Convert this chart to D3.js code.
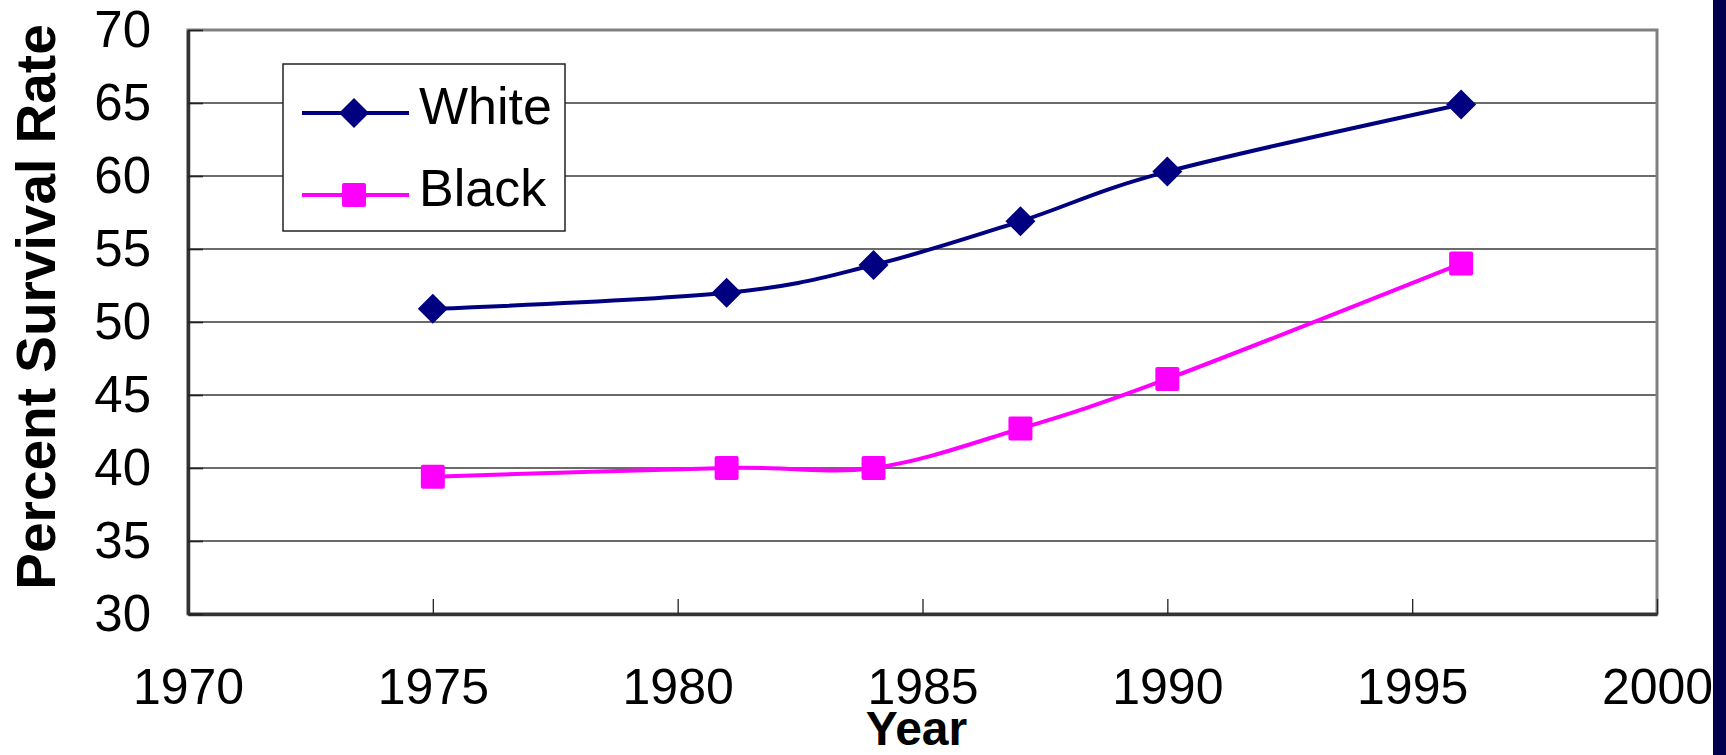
<!DOCTYPE html>
<html>
<head>
<meta charset="utf-8">
<script src="https://cdn.jsdelivr.net/npm/d3@7/dist/d3.min.js"></script>
<style>
  html, body { margin: 0; padding: 0; background: #ffffff; }
  svg { display: block; }
  text { font-family: "Liberation Sans", Arial, sans-serif; fill: #000; }
</style>
</head>
<body>
<svg id="chart" width="1726" height="755"></svg>
<script>
// Survival rate by year, two series
const years = [1975, 1981, 1984, 1987, 1990, 1996];
const whiteRate = [50.9, 52.0, 53.9, 56.9, 60.3, 64.9];
const blackRate = [39.4, 40.0, 40.0, 42.7, 46.1, 54.0];

const seriesNames = ["White", "Black"];
const seriesColors = ["#000080", "#ff00ff"];

const xTicks = [1970, 1975, 1980, 1985, 1990, 1995, 2000];
const yTicks = [30, 35, 40, 45, 50, 55, 60, 65, 70];

const W = 1726, H = 755;
const plot = { left: 188, right: 1657, top: 30, bottom: 614 };

const svg = d3.select("#chart");

// right-hand navy band
svg.append("rect")
  .attr("x", 1713).attr("y", 0)
  .attr("width", W - 1713).attr("height", H)
  .attr("fill", "#00004e");

const x = d3.scaleLinear().domain([1970, 2000]).range([plot.left, plot.right]);
const y = d3.scaleLinear().domain([30, 70]).range([plot.bottom, plot.top]);

// horizontal gridlines
svg.append("g")
  .selectAll("line")
  .data(yTicks.filter(v => v > 30 && v < 70))
  .join("line")
  .attr("x1", plot.left).attr("x2", plot.right)
  .attr("y1", d => y(d)).attr("y2", d => y(d))
  .attr("stroke", "#3a3a3a")
  .attr("stroke-width", 1.6);

// plot frame
svg.append("rect")
  .attr("x", plot.left).attr("y", plot.top)
  .attr("width", plot.right - plot.left)
  .attr("height", plot.bottom - plot.top)
  .attr("fill", "none")
  .attr("stroke", "#808080")
  .attr("stroke-width", 3);

// x axis: ticks pointing inward, labels below
const xAxis = d3.axisBottom(x)
  .tickValues(xTicks)
  .tickFormat(d3.format("d"))
  .tickSizeInner(-15)
  .tickSizeOuter(0)
  .tickPadding(54);
const gx = svg.append("g")
  .attr("transform", `translate(0,${plot.bottom})`)
  .call(xAxis);
gx.select(".domain").attr("stroke", "#333").attr("stroke-width", 3.5);
gx.selectAll(".tick line").attr("stroke", "#222").attr("stroke-width", 1.3);
gx.selectAll(".tick text")
  .attr("font-size", 50)
  .attr("font-family", "Liberation Sans, Arial, sans-serif")
  .attr("fill", "#000");

// y axis: ticks pointing inward, labels to the left
const yAxis = d3.axisLeft(y)
  .tickValues(yTicks)
  .tickFormat(d3.format("d"))
  .tickSizeInner(-15)
  .tickSizeOuter(0)
  .tickPadding(37);
const gy = svg.append("g")
  .attr("transform", `translate(${plot.left},0)`)
  .call(yAxis);
gy.select(".domain").attr("stroke", "#333").attr("stroke-width", 3.5);
gy.selectAll(".tick line").attr("stroke", "#222").attr("stroke-width", 1.6);
gy.selectAll(".tick text")
  .attr("font-size", 51)
  .attr("font-family", "Liberation Sans, Arial, sans-serif")
  .attr("fill", "#000");

// axis titles
svg.append("text")
  .attr("x", (plot.left + plot.right) / 2 - 6)
  .attr("y", 745)
  .attr("text-anchor", "middle")
  .attr("font-size", 48)
  .attr("font-weight", "bold")
  .text("Year");

svg.append("text")
  .attr("transform", "translate(55,307) rotate(-90)")
  .attr("text-anchor", "middle")
  .attr("font-size", 55)
  .attr("font-weight", "bold")
  .text("Percent Survival Rate");

// series lines, smoothed
const line = d3.line()
  .x(d => x(d.year))
  .y(d => y(d.value))
  .curve(d3.curveCatmullRom.alpha(0));

const series = [whiteRate, blackRate].map((vals, i) => ({
  name: seriesNames[i],
  color: seriesColors[i],
  points: years.map((yr, j) => ({ year: yr, value: vals[j] }))
}));

const DIAMOND_HALF = 15;
const SQ = 24;

function drawMarker(g, kind, cx, cy, color) {
  if (kind === 0) {
    g.append("path")
      .attr("d", d3.symbol().type(d3.symbolSquare).size(2 * DIAMOND_HALF * DIAMOND_HALF)())
      .attr("transform", `translate(${cx},${cy}) rotate(45)`)
      .attr("fill", color);
  } else {
    g.append("rect")
      .attr("x", cx - SQ / 2).attr("y", cy - SQ / 2)
      .attr("width", SQ).attr("height", SQ)
      .attr("rx", 2)
      .attr("fill", color);
  }
}

series.forEach((s, i) => {
  const g = svg.append("g");
  g.append("path")
    .datum(s.points)
    .attr("d", line)
    .attr("fill", "none")
    .attr("stroke", s.color)
    .attr("stroke-width", 4)
    .attr("stroke-linejoin", "round");
  s.points.forEach(p => drawMarker(g, i, x(p.year), y(p.value), s.color));
});

// legend
const legend = svg.append("g");
legend.append("rect")
  .attr("x", 283).attr("y", 64)
  .attr("width", 282).attr("height", 167)
  .attr("fill", "#fff")
  .attr("stroke", "#222")
  .attr("stroke-width", 1.5);

const legendRows = [113, 195];
series.forEach((s, i) => {
  const ly = legendRows[i];
  legend.append("line")
    .attr("x1", 302).attr("x2", 409)
    .attr("y1", ly).attr("y2", ly)
    .attr("stroke", s.color)
    .attr("stroke-width", 4);
  drawMarker(legend, i, 354, ly, s.color);
  legend.append("text")
    .attr("x", 419)
    .attr("y", ly + 11)
    .attr("font-size", 52)
    .text(s.name);
});
</script>
</body>
</html>
